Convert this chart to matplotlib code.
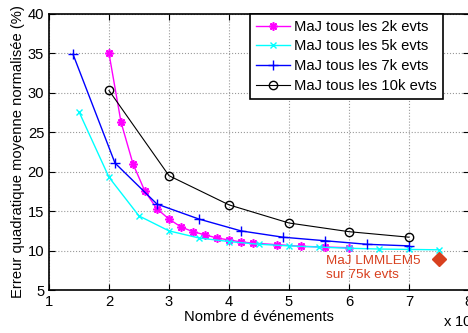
import matplotlib
matplotlib.use("Agg")
import matplotlib.pyplot as plt

plt.rcParams['font.family'] = ['Liberation Sans', 'DejaVu Sans']

# Données (x en nombre d'événements)
x_2k = [20000, 22000, 24000, 26000, 28000, 30000, 32000, 34000, 36000, 38000,
        40000, 42000, 44000, 48000, 52000, 56000, 60000]
y_2k = [35.0, 26.3, 21.0, 17.5, 15.3, 14.0, 13.0, 12.4, 12.0, 11.6,
        11.35, 11.1, 10.95, 10.75, 10.55, 10.45, 10.37]

x_5k = [15000, 20000, 25000, 30000, 35000, 40000, 45000, 50000, 55000,
        60000, 65000, 70000, 75000]
y_5k = [27.6, 19.3, 14.4, 12.5, 11.6, 11.15, 10.8, 10.6, 10.45,
        10.3, 10.2, 10.15, 10.1]

x_7k = [14000, 21000, 28000, 35000, 42000, 49000, 56000, 63000, 70000]
y_7k = [34.9, 21.1, 15.9, 14.0, 12.5, 11.7, 11.25, 10.8, 10.6]

x_10k = [20000, 30000, 40000, 50000, 60000, 70000]
y_10k = [30.3, 19.5, 15.8, 13.5, 12.4, 11.7]

x_ref = [75000]
y_ref = [8.95]

red = '#d8401f'
fs = 10.6

fig = plt.figure(figsize=(4.68, 3.33), dpi=100)
ax = fig.add_axes([0.1047, 0.129, 0.8973, 0.829])

ax.plot(x_2k, y_2k, color='magenta', marker=(8, 2, 0), markersize=6, mew=1.2, lw=1, label='MaJ tous les 2k evts')
ax.plot(x_5k, y_5k, color='cyan', marker='x', markersize=5, lw=1, label='MaJ tous les 5k evts')
ax.plot(x_7k, y_7k, color='blue', marker='+', markersize=7, lw=1, label='MaJ tous les 7k evts')
ax.plot(x_10k, y_10k, color='black', marker='o', markersize=6, mfc='none', lw=0.8, label='MaJ tous les 10k evts')
ax.plot(x_ref, y_ref, color=red, marker='D', markersize=7, ls='none')

ax.text(56100, 7.8, 'MaJ LMMLEM5\nsur 75k evts', color=red, fontsize=9.7,
        ha='left', va='center', linespacing=1.15)

ax.set_xlim(10000, 80000)
ax.set_ylim(5, 40)
ax.set_xticks(range(10000, 80001, 10000))
ax.set_xticklabels([str(i) for i in range(1, 9)])
ax.set_yticks(range(5, 41, 5))
ax.tick_params(direction='in', top=True, right=True, labelsize=fs, length=4)
for s in ax.spines.values():
    s.set_linewidth(1.2)
ax.grid(True, linestyle=':', color='#999999', linewidth=0.8)

ax.set_xlabel("Nombre d événements", fontsize=fs, labelpad=1)
ax.set_ylabel("Erreur quadratique moyenne normalisée (%)", fontsize=fs, labelpad=2)
fig.text(0.946, 0.008, r'x 10$^4$', fontsize=fs, ha='left', va='bottom')

leg = ax.legend(loc='upper right', bbox_to_anchor=(0.938, 1.0), fontsize=fs,
                fancybox=False, framealpha=1, edgecolor='black',
                borderpad=0.4, labelspacing=0.38, handlelength=2.3,
                handletextpad=0.3, borderaxespad=0)
leg.get_frame().set_linewidth(1.2)

fig.savefig('out.png', dpi=100)
